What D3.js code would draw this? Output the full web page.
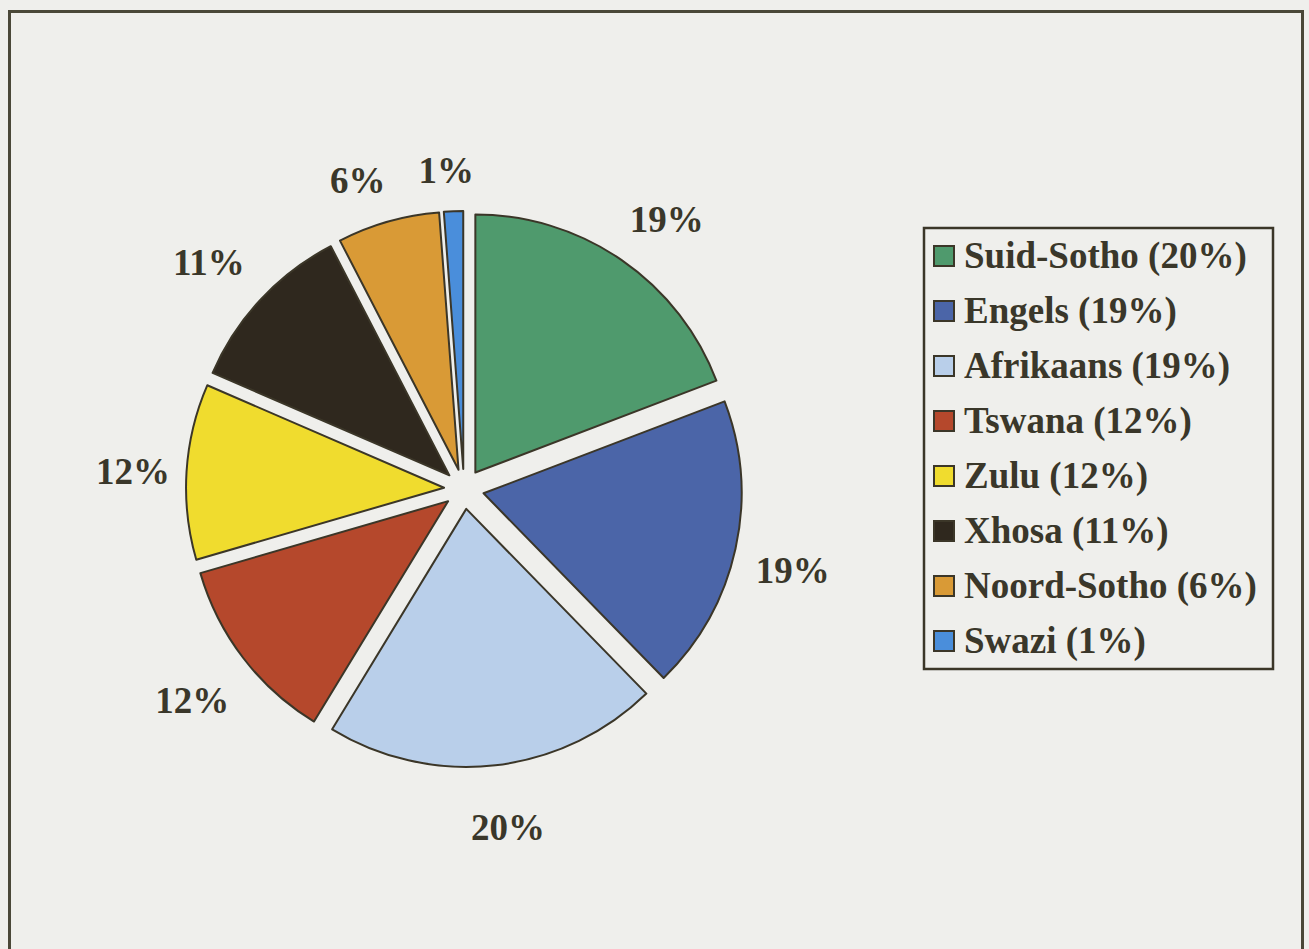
<!DOCTYPE html>
<html>
<head>
<meta charset="utf-8">
<script src="https://cdn.jsdelivr.net/npm/d3@7"></script>
<style>
  html, body { margin: 0; padding: 0; background: #efefec; }
  svg { display: block; }
  text { font-family: "Liberation Serif", "Times New Roman", serif; font-weight: bold; fill: #3a372a; }
</style>
</head>
<body>
<svg></svg>
<script>
const width = 1309, height = 949

// slices clockwise from 12 o'clock
const languages = ['Suid-Sotho', 'Engels', 'Afrikaans', 'Tswana', 'Zulu', 'Xhosa', 'Noord-Sotho', 'Swazi']
const shares = [19.2, 18.5, 21.0, 11.8, 11.0, 10.9, 6.4, 1.2]
const sliceLabels = ['19%', '19%', '20%', '12%', '12%', '11%', '6%', '1%']
const legendLabels = ['20%', '19%', '19%', '12%', '12%', '11%', '6%', '1%']
const colors = ['#4f9a6d', '#4b65a8', '#b9cfea', '#b5482c', '#f0dc2e', '#2f281e', '#d99a36', '#4a8edb']

const svg = d3.select('svg').attr('width', width).attr('height', height)

// page frame (open at the bottom, like the scan)
svg.append('path')
    .attr('d', 'M9.5,' + height + 'V11.5H1302.5V' + height)
    .attr('fill', 'none')
    .attr('stroke', '#4a4838')
    .attr('stroke-width', 3)

const cx = 464, cy = 489,
    radius = 258,
    explode = 20,
    labelGap = 308

const pie = d3.pie().sort(null).value(d => d)
const arcs = pie(shares)
const arc = d3.arc().innerRadius(0).outerRadius(radius)

const g = svg.append('g').attr('transform', 'translate(' + cx + ',' + cy + ')')

g.selectAll('path.slice')
    .data(arcs)
    .enter().append('path')
    .attr('class', 'slice')
    .attr('d', arc)
    .attr('transform', d => {
        let a = (d.startAngle + d.endAngle) / 2
        return 'translate(' + (Math.sin(a) * explode) + ',' + (-Math.cos(a) * explode) + ')'
    })
    .attr('fill', (d, i) => colors[i])
    .attr('stroke', '#3b3628')
    .attr('stroke-width', 2)
    .attr('stroke-linejoin', 'round')

// small nudges where the original labels sit off the bisector (degrees) or off the gap (px)
const labelShift = [2, 1, -1, 0, 0, -1, -3, -1]
const labelPush = [0, -9, 12, -3, -14, 0, 0, 0]

const labels = g.selectAll('text.pct')
    .data(arcs)
    .enter().append('text')
    .attr('class', 'pct')
    .attr('text-anchor', 'middle')
    .attr('font-size', 37)
    .text((d, i) => sliceLabels[i])

// push each label out until its box clears the pie by a fixed gap
labels.each(function(d, i) {
    let box = this.getBBox(),
        a = (d.startAngle + d.endAngle) / 2 + labelShift[i] * Math.PI / 180,
        ext = Math.abs(Math.sin(a)) * box.width / 2 + Math.abs(Math.cos(a)) * 13,
        r = labelGap + ext + labelPush[i]
    d3.select(this)
        .attr('x', Math.sin(a) * r)
        .attr('y', -Math.cos(a) * r + 16)
})

// legend
const legend = svg.append('g').attr('transform', 'translate(924,228)')
legend.append('rect')
    .attr('width', 349).attr('height', 441)
    .attr('fill', 'none')
    .attr('stroke', '#3b3628')
    .attr('stroke-width', 2.5)

const rowY = d3.scalePoint().domain(languages).range([28, 413])

const rows = legend.selectAll('g.row')
    .data(languages)
    .enter().append('g')
    .attr('class', 'row')
    .attr('transform', d => 'translate(0,' + rowY(d) + ')')

rows.append('rect')
    .attr('x', 10).attr('y', -10)
    .attr('width', 20).attr('height', 20)
    .attr('fill', (d, i) => colors[i])
    .attr('stroke', '#3b3628')
    .attr('stroke-width', 2)

rows.append('text')
    .attr('x', 40)
    .attr('y', 12)
    .attr('font-size', 37)
    .text((d, i) => d + ' (' + legendLabels[i] + ')')
</script>
</body>
</html>
